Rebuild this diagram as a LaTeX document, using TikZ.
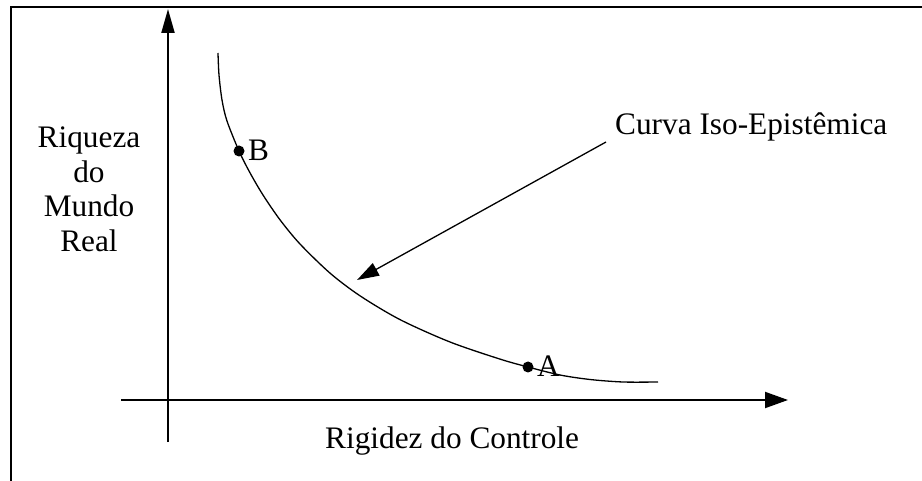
\documentclass[tikz,border=0pt]{standalone}
\usepackage{fontspec}
\setmainfont{Liberation Serif}
\usetikzlibrary{arrows.meta}
\begin{document}
\begin{tikzpicture}[x=1pt,y=-1pt,
  lbl/.style={inner sep=0pt, font=\fontsize{31.3}{34.5}\selectfont},
  frameline/.style={line width=2pt},
  axisline/.style={line width=2pt},
  dot/.style={circle, fill=black, minimum size=11pt, inner sep=0pt},
  curveline/.style={line width=1.3pt, line join=round},
  pointer/.style={line width=1.3pt, -{Triangle[length=22pt,width=14pt]}}]
\useasboundingbox (0,0) rectangle (922,481);
% frame (top and left only)
\draw[frameline] (11,481) -- (11,6.7) -- (922,6.7);
% axes
\coordinate (ybot) at (168,442);
\coordinate (ytop) at (168,9);
\coordinate (xleft) at (121,400);
\coordinate (xright) at (788,400);
\draw[axisline, -{Triangle[length=24pt,width=13pt]}] (ybot) -- (ytop);
\draw[axisline, -{Triangle[length=23pt,width=16pt]}] (xleft) -- (xright);
% iso-epistemic curve
\draw[curveline] plot[smooth, tension=0.5] coordinates {(218,53) (219,75) (222,100) (227,121) (239,151) (250,172.8) (263,195) (280,219.8) (300,244) (330,273.1) (360,295.8) (400,319.6) (450,342) (500,359.1) (528,367) (560,375) (590,379.5) (623,382) (658,382)};
% points
\node[dot] (ptB) at (239,151) {};
\node[dot] (ptA) at (528,367) {};
\node[lbl, anchor=base west] (labB) at (248,161) {B};
\node[lbl, anchor=base west] (labA) at (537,377) {A};
% labels
\node[lbl, anchor=base west] (curvelab) at (615,135) {Curva Iso-Epistêmica};
\node[lbl, align=center, anchor=north] (ylab) at (89,127) {Riqueza\\do\\Mundo\\Real};
\node[lbl, anchor=base west] (xlab) at (325,448) {Rigidez do Controle};
% pointer arrow
\coordinate (arrStart) at (606,142);
\coordinate (arrTip) at (357,280);
\draw[pointer] (arrStart) -- (arrTip);
\end{tikzpicture}
\end{document}
